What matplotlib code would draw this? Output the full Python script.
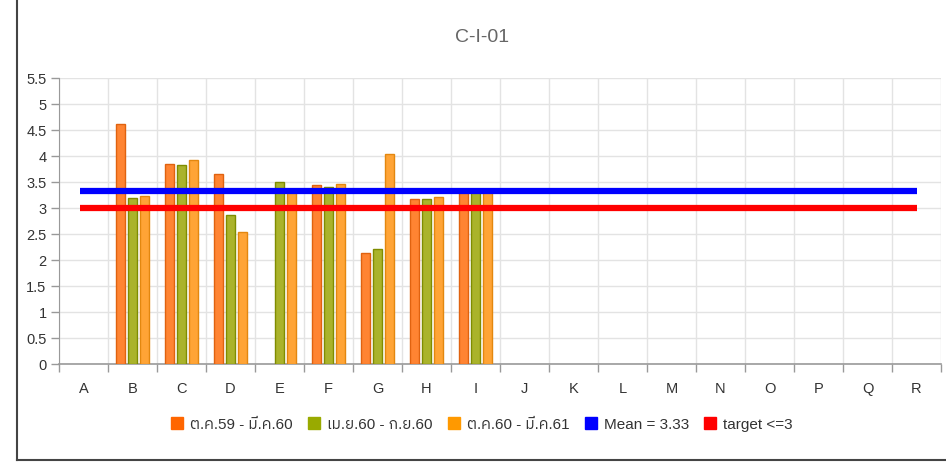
import matplotlib
matplotlib.use("Agg")
import matplotlib.pyplot as plt
from matplotlib import font_manager
from matplotlib.ft2font import FT2Font
from matplotlib.lines import Line2D
import numpy as np

categories = list("ABCDEFGHIJKLMNOPQR")
series_names = ["ต.ค.59 - มี.ค.60", "เม.ย.60 - ก.ย.60", "ต.ค.60 - มี.ค.61"]
s1 = [None, 4.62, 3.85, 3.65, None, 3.44, 2.13, 3.17, 3.30] + [None] * 9
s2 = [None, 3.20, 3.82, 2.87, 3.50, 3.41, 2.22, 3.17, 3.30] + [None] * 9
s3 = [None, 3.23, 3.93, 2.53, 3.33, 3.46, 4.03, 3.22, 3.30] + [None] * 9
mean_value = 3.33
target_value = 3
mean_label = "Mean = 3.33"
target_label = "target <=3"
title = "C-I-01"

# find a font with Thai glyphs
thai_family = None
for f in font_manager.fontManager.ttflist:
    try:
        cm = FT2Font(f.fname).get_charmap()
        if 0x0E01 in cm and 0x0E21 in cm:
            thai_family = f.name
            if "Noto Sans" in f.name or "Thai" in f.name:
                break
    except Exception:
        pass
families = ["Liberation Sans"]
if thai_family:
    families.append(thai_family)
families.append("DejaVu Sans")
plt.rcParams["font.family"] = families

W, H = 946, 464
fig = plt.figure(figsize=(W / 100, H / 100), dpi=100)
ax = fig.add_axes([59 / W, 1 - 365 / H, (941 - 59) / W, (365 - 79) / H])

x = np.arange(len(categories))
bw = 0.2
off = 0.245
faces = ["#FF8432", "#AAB32B", "#FFA436"]
edges = ["#E0620F", "#7F8C00", "#E3870F"]
for i, s in enumerate([s1, s2, s3]):
    vals = np.array([np.nan if v is None else v for v in s], dtype=float)
    ax.bar(x + (i - 1) * off, vals, width=bw, color=faces[i], edgecolor=edges[i],
           linewidth=1.0, zorder=3)

ax.plot([x[0] - 0.07, x[-1]], [mean_value, mean_value], color="#0000FF", lw=4.5, zorder=4,
        solid_capstyle="butt")
ax.plot([x[0] - 0.07, x[-1]], [target_value, target_value], color="#FF0000", lw=4.5, zorder=4,
        solid_capstyle="butt")

ax.set_xlim(-0.5, len(categories) - 0.5)
ax.set_ylim(0, 5.5)
ax.set_yticks(np.arange(0, 5.51, 0.5))
ax.set_yticklabels([f"{v:g}" for v in np.arange(0, 5.51, 0.5)])
ax.set_xticks(x)
ax.set_xticklabels(categories)
ax.set_xticks(np.arange(-0.5, len(categories)), minor=True)
ax.tick_params(axis="x", which="major", length=0, pad=12, labelsize=10.5, labelcolor="#333333")
ax.tick_params(axis="x", which="minor", length=6, color="#999999", width=1)
ax.tick_params(axis="y", length=6, color="#999999", width=1, labelsize=10.5,
               labelcolor="#333333", pad=3)
ax.grid(True, axis="y", color="#E3E3E3", lw=1, zorder=0)
ax.grid(True, axis="x", which="minor", color="#E3E3E3", lw=1, zorder=0)
ax.grid(False, axis="x", which="major")
for sp in ["top", "right"]:
    ax.spines[sp].set_visible(False)
ax.spines["left"].set_color("#999999")
ax.spines["bottom"].set_color("#999999")
ax.spines["bottom"].set_linewidth(1.2)
ax.set_axisbelow(True)

fig.text(482 / W, 1 - 38 / H, title, ha="center", va="center", fontsize=14, color="#666666")

handles = [Line2D([], [], marker="s", ls="none", markersize=8, color=c)
           for c in ["#FF6600", "#99AA00", "#FF9900", "#0000FF", "#FF0000"]]
labels = series_names + [mean_label, target_label]
fig.legend(handles, labels, loc="center", bbox_to_anchor=(481 / W, 1 - 425 / H), ncol=5,
           frameon=False, fontsize=11, handletextpad=0.35, columnspacing=0.9,
           handlelength=1.0, labelcolor="#333333")

# outer border
fig.add_artist(Line2D([17 / W, 17 / W], [1 - 461 / H, 1.0], color="#444444", lw=1.5,
                      transform=fig.transFigure))
fig.add_artist(Line2D([17 / W, 1.0], [1 - 461 / H, 1 - 461 / H], color="#444444", lw=1.5,
                      transform=fig.transFigure))

fig.savefig("out.png", dpi=100)
